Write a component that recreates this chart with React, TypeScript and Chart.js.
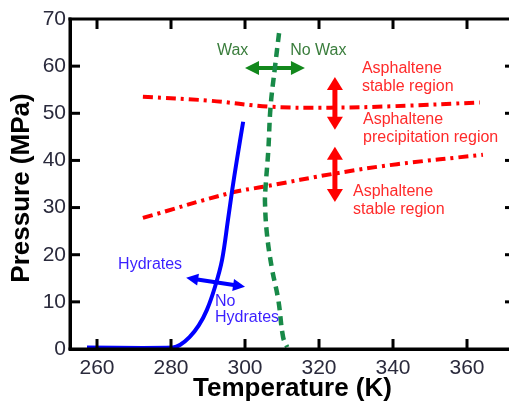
import { useEffect, useRef } from "react";
import { Chart, registerables } from "chart.js";
Chart.register(...registerables);

// Axis ticks
const xTicks = [260, 280, 300, 320, 340, 360];
const yTicks = [0, 10, 20, 30, 40, 50, 60, 70];

// Hydrate boundary (blue solid)
const hydrateT = [257.3, 280.5, 282.5, 285.0, 287.5, 289.7, 291.9, 293.8, 295.4, 296.5, 297.8, 299.5];
const hydrateP = [0.3, 0.3, 0.9, 2.5, 5.0, 8.3, 13.2, 18.9, 27.4, 33.5, 40.1, 48.2];

// Wax boundary (green dashed)
const waxT = [309.2, 308.1, 306.9, 306.3, 305.5, 305.4, 305.9, 307.2, 309.0, 310.3, 311.4];
const waxP = [67.0, 59.8, 51.3, 42.2, 33.7, 31.0, 24.6, 17.4, 10.4, 2.5, 0.4];

// Asphaltene upper boundary (red dash-dot)
const asphUpperT = [272.4, 290.0, 306.8, 323.0, 340.0, 363.5];
const asphUpperP = [53.5, 52.7, 51.4, 51.2, 51.5, 52.3];

// Asphaltene lower boundary (red dash-dot)
const asphLowerT = [272.4, 296.0, 304.9, 324.9, 341.1, 364.3];
const asphLowerP = [27.8, 33.1, 34.4, 37.3, 39.2, 41.2];

// Double-headed arrows: [T1, P1, T2, P2]
const waxArrow = [300.0, 59.6, 316.2, 59.6];
const hydrateArrow = [284.1, 15.1, 300.0, 13.2];
const asphArrowUpper = [324.3, 57.7, 324.3, 46.5];
const asphArrowLower = [324.3, 42.9, 324.3, 31.2];

// Text labels: [text, T, P]
const waxLabels: [string, number, number][] = [["Wax", 292.4, 63.4], ["No Wax", 312.2, 63.4]];
const asphLabels: [string, number, number][] = [
  ["Asphaltene", 331.6, 59.4],
  ["stable region", 331.6, 55.6],
  ["Asphaltene", 331.9, 48.6],
  ["precipitation region", 331.9, 44.8],
  ["Asphaltene", 329.2, 33.3],
  ["stable region", 329.2, 29.5],
];
const hydrateLabels: [string, number, number][] = [
  ["Hydrates", 265.7, 18.0],
  ["No", 291.9, 10.0],
  ["Hydrates", 291.9, 6.6],
];

const xTitle = "Temperature (K)";
const yTitle = "Pressure (MPa)";

const FONT = "'Liberation Sans', Arial, sans-serif";

const pts = (xs: number[], ys: number[]) => xs.map((x, i) => ({ x, y: ys[i] }));

function drawArrow(ctx: CanvasRenderingContext2D, x1: number, y1: number, x2: number, y2: number, color: string, lw: number, hl: number, hw: number) {
  const ang = Math.atan2(y2 - y1, x2 - x1);
  const cos = Math.cos(ang), sin = Math.sin(ang);
  ctx.save();
  ctx.setLineDash([]);
  ctx.strokeStyle = color;
  ctx.fillStyle = color;
  ctx.lineWidth = lw;
  ctx.lineCap = "butt";
  ctx.beginPath();
  ctx.moveTo(x1 + cos * hl * 0.8, y1 + sin * hl * 0.8);
  ctx.lineTo(x2 - cos * hl * 0.8, y2 - sin * hl * 0.8);
  ctx.stroke();
  const head = (tx: number, ty: number, dir: number) => {
    const bx = tx - dir * cos * hl, by = ty - dir * sin * hl;
    ctx.beginPath();
    ctx.moveTo(tx, ty);
    ctx.lineTo(bx - sin * hw, by + cos * hw);
    ctx.lineTo(bx + sin * hw, by - cos * hw);
    ctx.closePath();
    ctx.fill();
  };
  head(x2, y2, 1);
  head(x1, y1, -1);
  ctx.restore();
}

// Filled polygon bar (same mechanics as the arrow heads)
function bar(ctx: CanvasRenderingContext2D, x: number, y: number, w: number, h: number) {
  ctx.beginPath();
  ctx.moveTo(x, y);
  ctx.lineTo(x + w, y);
  ctx.lineTo(x + w, y + h);
  ctx.lineTo(x, y + h);
  ctx.closePath();
  ctx.fill();
}

function drawFrame(chart: any) {
  const ctx = chart.ctx as CanvasRenderingContext2D;
  const xs = chart.scales.x, ys = chart.scales.y;
  const ca = chart.chartArea;
  const L0 = Math.round(ca.left), R0 = Math.round(ca.right), T0 = Math.round(ca.top), B0 = Math.round(ca.bottom);
  ctx.save();
  ctx.setLineDash([]);
  ctx.fillStyle = "#000000";
  bar(ctx, L0 - 1.5, T0 - 1.5, R0 - L0 + 1.5, 3);
  bar(ctx, L0 - 1.5, T0 - 1.5, 3, B0 - T0 + 3);
  bar(ctx, L0 - 1.5, B0 - 1.5, R0 - L0 + 1.5, 3);
  for (const v of xTicks) {
    const px = xs.getPixelForValue(v);
    bar(ctx, px - 1.5, B0 - 10, 3, 10);
    bar(ctx, px - 1.5, T0, 3, 10);
  }
  for (const v of yTicks) {
    if (v === 0 || v === 70) continue;
    const py = ys.getPixelForValue(v);
    bar(ctx, L0, py - 1.5, 10, 3);
    bar(ctx, R0 - 4, py - 1.5, 4, 3);
  }
  ctx.restore();
}

const chartPlugin = {
  id: "phaseDiagram",
  beforeDatasetsDraw(chart: any) {
    const ctx = chart.ctx;
    const xs = chart.scales.x, ys = chart.scales.y;
    const P = (a: number[]) => [xs.getPixelForValue(a[0]), ys.getPixelForValue(a[1]), xs.getPixelForValue(a[2]), ys.getPixelForValue(a[3])];
    const w = P(waxArrow);
    drawArrow(ctx, w[0], w[1], w[2], w[3], "#12881c", 4, 14, 7);
    const h = P(hydrateArrow);
    drawArrow(ctx, h[0], h[1], h[2], h[3], "#0000ff", 4, 12, 6);
    const a1 = P(asphArrowUpper);
    drawArrow(ctx, a1[0], a1[1], a1[2], a1[3], "#ff0000", 5, 13, 8);
    const a2 = P(asphArrowLower);
    drawArrow(ctx, a2[0], a2[1], a2[2], a2[3], "#ff0000", 5, 13, 8);
  },
  afterDraw(chart: any) {
    drawFrame(chart);
    const ctx = chart.ctx as CanvasRenderingContext2D;
    const xs = chart.scales.x, ys = chart.scales.y;
    const ca = chart.chartArea;
    ctx.save();
    ctx.textBaseline = "middle";
    ctx.textAlign = "left";
    ctx.font = `16px ${FONT}`;
    const drawLabels = (arr: [string, number, number][], color: string) => {
      ctx.fillStyle = color;
      for (const [s, x, y] of arr) ctx.fillText(s, xs.getPixelForValue(x), ys.getPixelForValue(y));
    };
    drawLabels(waxLabels, "#3a7d3c");
    drawLabels(asphLabels, "#ff2a2a");
    drawLabels(hydrateLabels, "#3a1fff");

    ctx.fillStyle = "#000";
    ctx.font = `bold 26px ${FONT}`;
    ctx.textAlign = "center";
    ctx.fillText(xTitle, (ca.left + ca.right) / 2 + 3, 389);
    ctx.translate(22, (ca.top + ca.bottom) / 2 + 4);
    ctx.rotate(-Math.PI / 2);
    ctx.fillText(yTitle, 0, 0);
    ctx.restore();
  },
};

export default function App() {
  const ref = useRef<HTMLCanvasElement | null>(null);
  useEffect(() => {
    document.body.style.margin = "0";
    const canvas = ref.current!;
    const chart = new Chart(canvas, {
      type: "line",
      data: {
        datasets: [
          {
            label: "Wax",
            data: pts(waxT, waxP),
            borderColor: "#188a48",
            borderWidth: 4.5,
            borderDash: [9, 6],
            pointRadius: 0,
            tension: 0.4,
            order: 0,
          },
          {
            label: "Hydrates",
            data: pts(hydrateT, hydrateP),
            borderColor: "#0000ff",
            borderWidth: 4,
            pointRadius: 0,
            tension: 0.35,
            order: 1,
          },
          {
            label: "Asph upper",
            data: pts(asphUpperT, asphUpperP),
            borderColor: "#ff0000",
            borderWidth: 4,
            borderDash: [10, 5, 3, 5],
            pointRadius: 0,
            tension: 0.4,
            order: 2,
          },
          {
            label: "Asph lower",
            data: pts(asphLowerT, asphLowerP),
            borderColor: "#ff0000",
            borderWidth: 4,
            borderDash: [10, 5, 3, 5],
            pointRadius: 0,
            tension: 0.4,
            order: 3,
          },
        ],
      },
      options: {
        animation: false,
        responsive: false,
        layout: { padding: { top: 19, left: 0, right: 0, bottom: 0 } },
        plugins: { legend: { display: false }, tooltip: { enabled: false } },
        scales: {
          x: {
            type: "linear",
            min: 252.7,
            max: 371.35,
            grid: { display: false, drawTicks: false },
            border: { display: true, color: "#000", width: 3 },
            afterBuildTicks: (s: any) => {
              s.ticks = xTicks.map((v) => ({ value: v }));
            },
            afterFit: (s: any) => {
              s.height = 54;
            },
            ticks: {
              padding: 7,
              color: "#2a2a3c",
              font: { family: FONT, size: 21 },
              maxRotation: 0,
            },
          },
          y: {
            type: "linear",
            min: 0,
            max: 70,
            grid: { display: false, drawTicks: false },
            border: { display: true, color: "#000", width: 3 },
            afterBuildTicks: (s: any) => {
              s.ticks = yTicks.map((v) => ({ value: v }));
            },
            afterFit: (s: any) => {
              s.width = 70;
            },
            ticks: {
              padding: 4,
              color: "#2a2a3c",
              font: { family: FONT, size: 21 },
            },
          },
        },
      },
      plugins: [chartPlugin],
    } as any);
    return () => chart.destroy();
  }, []);
  return (
    <div style={{ width: 509, height: 403, overflow: "hidden" }}>
      <canvas ref={ref} width={509} height={403} style={{ display: "block" }} />
    </div>
  );
}
